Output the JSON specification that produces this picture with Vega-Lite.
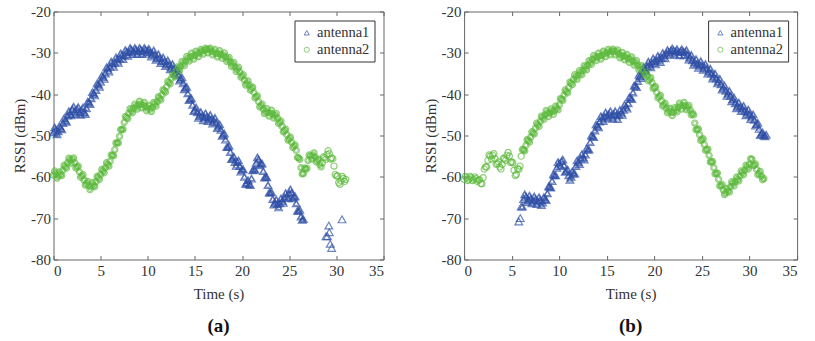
{
"$schema":"https://vega.github.io/schema/vega-lite/v6.json",
"padding":{"left":12.5,"top":4.5,"right":0,"bottom":0},
"spacing":80.6,
"bounds":"flush",
"config":{"view":{"stroke":null},"font":"Liberation Serif",
"axis":{"grid":false,"domainColor":"#666","tickColor":"#666","tickSize":-4,"labelPadding":8,"labelFont":"Liberation Serif","labelFontSize":15,"labelColor":"#333","titleFont":"Liberation Serif","titleFontSize":15,"titleFontWeight":"normal","titleColor":"#333","labelExpr":"datum.value + ''"},
"legend":{"labelFont":"Liberation Serif","labelFontSize":14.5,"labelColor":"#333"},
"title":{"font":"Liberation Serif","fontSize":19,"fontWeight":"bold","color":"#111"}},
"datasets":{
"a":[
{"s":1,"t":0,"v":-49.2},{"s":1,"t":0.25,"v":-48.6},{"s":1,"t":0.5,"v":-49},{"s":1,"t":0.75,"v":-48.2},{"s":1,"t":1,"v":-47},{"s":1,"t":1.25,"v":-46.4},{"s":1,"t":1.5,"v":-45.2},{"s":1,"t":1.75,"v":-44.8},{"s":1,"t":2,"v":-43.6},{"s":1,"t":2.25,"v":-44.2},{"s":1,"t":2.5,"v":-43.6},{"s":1,"t":2.75,"v":-44.4},{"s":1,"t":3,"v":-43.8},{"s":1,"t":3.25,"v":-44.4},{"s":1,"t":3.5,"v":-43.4},{"s":1,"t":3.75,"v":-42},{"s":1,"t":4,"v":-41},{"s":1,"t":4.25,"v":-39.8},{"s":1,"t":4.5,"v":-39},{"s":1,"t":4.75,"v":-37.6},{"s":1,"t":5,"v":-37},{"s":1,"t":5.25,"v":-35.8},{"s":1,"t":5.5,"v":-35},{"s":1,"t":5.75,"v":-33.8},{"s":1,"t":6,"v":-33.4},{"s":1,"t":6.25,"v":-32.6},{"s":1,"t":6.5,"v":-32.4},{"s":1,"t":6.75,"v":-31.6},{"s":1,"t":7,"v":-31.4},{"s":1,"t":7.25,"v":-30.6},{"s":1,"t":7.5,"v":-30.6},{"s":1,"t":7.75,"v":-29.8},{"s":1,"t":8,"v":-29.8},{"s":1,"t":8.25,"v":-29.2},{"s":1,"t":8.5,"v":-29.6},{"s":1,"t":8.75,"v":-29.2},{"s":1,"t":9,"v":-29.6},{"s":1,"t":9.25,"v":-29.2},{"s":1,"t":9.5,"v":-29.6},{"s":1,"t":9.75,"v":-29.2},{"s":1,"t":10,"v":-29.4},{"s":1,"t":10.25,"v":-29.8},{"s":1,"t":10.5,"v":-30.2},{"s":1,"t":10.75,"v":-30.4},{"s":1,"t":11,"v":-31.2},{"s":1,"t":11.25,"v":-31.2},{"s":1,"t":11.5,"v":-32},{"s":1,"t":11.75,"v":-32},{"s":1,"t":12,"v":-32.6},{"s":1,"t":12.25,"v":-32.8},{"s":1,"t":12.5,"v":-33.4},{"s":1,"t":12.75,"v":-33.8},{"s":1,"t":13,"v":-34.4},{"s":1,"t":13.25,"v":-35.4},{"s":1,"t":13.5,"v":-36.2},{"s":1,"t":13.75,"v":-37.4},{"s":1,"t":14,"v":-38.4},{"s":1,"t":14.25,"v":-39.8},{"s":1,"t":14.5,"v":-41.2},{"s":1,"t":14.75,"v":-42.6},{"s":1,"t":15,"v":-43.8},{"s":1,"t":15.25,"v":-44.4},{"s":1,"t":15.5,"v":-45.2},{"s":1,"t":15.75,"v":-45.2},{"s":1,"t":16,"v":-45.6},{"s":1,"t":16.25,"v":-45.4},{"s":1,"t":16.5,"v":-45.8},{"s":1,"t":16.75,"v":-46},{"s":1,"t":17,"v":-46.4},{"s":1,"t":17.25,"v":-46.8},{"s":1,"t":17.5,"v":-47.8},{"s":1,"t":17.75,"v":-48.6},{"s":1,"t":18,"v":-49.8},{"s":1,"t":18.25,"v":-51},{"s":1,"t":18.5,"v":-52.8},{"s":1,"t":18.75,"v":-54},{"s":1,"t":19,"v":-55.6},{"s":1,"t":19.25,"v":-56.4},{"s":1,"t":19.5,"v":-56.4},{"s":1,"t":19.75,"v":-57.4},{"s":1,"t":20,"v":-58.2},{"s":1,"t":20.25,"v":-60},{"s":1,"t":20.5,"v":-61.6},{"s":1,"t":20.75,"v":-61.8},{"s":1,"t":21,"v":-60.4},{"s":1,"t":21.25,"v":-58.2},{"s":1,"t":21.5,"v":-56.6},{"s":1,"t":21.75,"v":-55.8},{"s":1,"t":22,"v":-56.8},{"s":1,"t":22.25,"v":-58.6},{"s":1,"t":22.5,"v":-60},{"s":1,"t":22.75,"v":-62},{"s":1,"t":23,"v":-63.8},{"s":1,"t":23.25,"v":-65.4},{"s":1,"t":23.5,"v":-66.2},{"s":1,"t":23.75,"v":-66.6},{"s":1,"t":24,"v":-66.4},{"s":1,"t":24.25,"v":-65.8},{"s":1,"t":24.5,"v":-65},{"s":1,"t":24.75,"v":-64.6},{"s":1,"t":25,"v":-64},{"s":1,"t":25.25,"v":-63.8},{"s":1,"t":25.5,"v":-64.8},{"s":1,"t":25.75,"v":-66.4},{"s":1,"t":26,"v":-68.2},{"s":1,"t":26.25,"v":-69.6},{"s":1,"t":26.5,"v":-70.2},
{"s":1,"t":0.125,"v":-48},{"s":1,"t":0.375,"v":-49.7},{"s":1,"t":0.625,"v":-47.7},{"s":1,"t":0.875,"v":-48.5},{"s":1,"t":1.125,"v":-45.8},{"s":1,"t":1.375,"v":-46.7},{"s":1,"t":1.625,"v":-44.1},{"s":1,"t":1.875,"v":-45.1},{"s":1,"t":2.125,"v":-43},{"s":1,"t":2.375,"v":-44.8},{"s":1,"t":2.625,"v":-43.1},{"s":1,"t":2.875,"v":-45},{"s":1,"t":3.125,"v":-43.2},{"s":1,"t":3.375,"v":-44.8},{"s":1,"t":3.625,"v":-41.8},{"s":1,"t":3.875,"v":-42.4},{"s":1,"t":4.125,"v":-39.5},{"s":1,"t":4.375,"v":-40.3},{"s":1,"t":4.625,"v":-37.4},{"s":1,"t":4.875,"v":-38.2},{"s":1,"t":5.125,"v":-35.5},{"s":1,"t":5.375,"v":-36.3},{"s":1,"t":5.625,"v":-33.5},{"s":1,"t":5.875,"v":-34.5},{"s":1,"t":6.125,"v":-32.1},{"s":1,"t":6.375,"v":-33.4},{"s":1,"t":6.625,"v":-31.1},{"s":1,"t":6.875,"v":-32.4},{"s":1,"t":7.125,"v":-30.1},{"s":1,"t":7.375,"v":-31.5},{"s":1,"t":7.625,"v":-29.3},{"s":1,"t":7.875,"v":-30.7},{"s":1,"t":8.125,"v":-28.8},{"s":1,"t":8.375,"v":-30.3},{"s":1,"t":8.625,"v":-28.8},{"s":1,"t":8.875,"v":-30.3},{"s":1,"t":9.125,"v":-28.8},{"s":1,"t":9.375,"v":-30.3},{"s":1,"t":9.625,"v":-28.8},{"s":1,"t":9.875,"v":-30.2},{"s":1,"t":10.125,"v":-29},{"s":1,"t":10.375,"v":-30.9},{"s":1,"t":10.625,"v":-29.4},{"s":1,"t":10.875,"v":-31.7},{"s":1,"t":11.125,"v":-30.3},{"s":1,"t":11.375,"v":-32.5},{"s":1,"t":11.625,"v":-31.1},{"s":1,"t":11.875,"v":-33.2},{"s":1,"t":12.125,"v":-31.8},{"s":1,"t":12.375,"v":-34},{"s":1,"t":12.625,"v":-32.7},{"s":1,"t":12.875,"v":-35},{"s":1,"t":13.125,"v":-34},{"s":1,"t":13.375,"v":-36.7},{"s":1,"t":13.625,"v":-35.9},{"s":1,"t":13.875,"v":-38.8},{"s":1,"t":14.125,"v":-38.2},{"s":1,"t":14.375,"v":-41.4},{"s":1,"t":14.625,"v":-41},{"s":1,"t":14.875,"v":-44.1},{"s":1,"t":15.125,"v":-43.2},{"s":1,"t":15.375,"v":-45.7},{"s":1,"t":15.625,"v":-44.3},{"s":1,"t":15.875,"v":-46.3},{"s":1,"t":16.125,"v":-44.6},{"s":1,"t":16.375,"v":-46.5},{"s":1,"t":16.625,"v":-45},{"s":1,"t":16.875,"v":-47.1},{"s":1,"t":17.125,"v":-45.7},{"s":1,"t":17.375,"v":-48.2},{"s":1,"t":17.625,"v":-47.3},{"s":1,"t":17.875,"v":-50.1},{"s":1,"t":18.125,"v":-49.5},{"s":1,"t":18.375,"v":-52.8},{"s":1,"t":18.625,"v":-52.5},{"s":1,"t":18.875,"v":-55.7},{"s":1,"t":19.125,"v":-55.1},{"s":1,"t":19.375,"v":-57.3},{"s":1,"t":19.625,"v":-56},{"s":1,"t":19.875,"v":-58.7},{"s":1,"t":20.125,"v":-58.2},{"s":1,"t":20.375,"v":-61.7},{"s":1,"t":20.625,"v":-60.8},{"s":1,"t":20.875,"v":-62},{"s":1,"t":21.125,"v":-58.4},{"s":1,"t":21.375,"v":-58.3},{"s":1,"t":21.625,"v":-55.3},{"s":1,"t":21.875,"v":-57.2},{"s":1,"t":22.125,"v":-56.8},{"s":1,"t":22.375,"v":-60.2},{"s":1,"t":22.625,"v":-60.1},{"s":1,"t":22.875,"v":-63.8},{"s":1,"t":23.125,"v":-63.7},{"s":1,"t":23.375,"v":-66.7},{"s":1,"t":23.625,"v":-65.5},{"s":1,"t":23.875,"v":-67.4},{"s":1,"t":24.125,"v":-65.2},{"s":1,"t":24.375,"v":-66.3},{"s":1,"t":24.625,"v":-63.9},{"s":1,"t":24.875,"v":-65.2},{"s":1,"t":25.125,"v":-63},{"s":1,"t":25.375,"v":-65.2},{"s":1,"t":25.625,"v":-64.7},{"s":1,"t":25.875,"v":-68.2},{"s":1,"t":26.125,"v":-68},{"s":1,"t":26.375,"v":-70.4},
{"s":1,"t":28.9,"v":-74.4},{"s":1,"t":29.05,"v":-74.4},{"s":1,"t":29.2,"v":-71.8},{"s":1,"t":29.25,"v":-73.4},{"s":1,"t":29.35,"v":-76.2},{"s":1,"t":29.5,"v":-77.2},{"s":1,"t":30.6,"v":-70.3},
{"s":2,"t":0,"v":-59.6},{"s":2,"t":0.25,"v":-59.2},{"s":2,"t":0.5,"v":-59.8},{"s":2,"t":0.75,"v":-59.4},{"s":2,"t":1,"v":-58.4},{"s":2,"t":1.25,"v":-57.6},{"s":2,"t":1.5,"v":-56.6},{"s":2,"t":1.75,"v":-56},{"s":2,"t":2,"v":-55.8},{"s":2,"t":2.25,"v":-56.6},{"s":2,"t":2.5,"v":-57.6},{"s":2,"t":2.75,"v":-58.8},{"s":2,"t":3,"v":-59.8},{"s":2,"t":3.25,"v":-60.8},{"s":2,"t":3.5,"v":-61.6},{"s":2,"t":3.75,"v":-62.2},{"s":2,"t":4,"v":-62.4},{"s":2,"t":4.25,"v":-62},{"s":2,"t":4.5,"v":-61.2},{"s":2,"t":4.75,"v":-60.2},{"s":2,"t":5,"v":-59.4},{"s":2,"t":5.25,"v":-58.6},{"s":2,"t":5.5,"v":-57.8},{"s":2,"t":5.75,"v":-57},{"s":2,"t":6,"v":-56.2},{"s":2,"t":6.25,"v":-54.8},{"s":2,"t":6.5,"v":-53.4},{"s":2,"t":6.75,"v":-51.8},{"s":2,"t":7,"v":-50.2},{"s":2,"t":7.25,"v":-48.6},{"s":2,"t":7.5,"v":-46.8},{"s":2,"t":7.75,"v":-45.6},{"s":2,"t":8,"v":-44.6},{"s":2,"t":8.25,"v":-44},{"s":2,"t":8.5,"v":-43.4},{"s":2,"t":8.75,"v":-43},{"s":2,"t":9,"v":-42.6},{"s":2,"t":9.25,"v":-42.4},{"s":2,"t":9.5,"v":-42.6},{"s":2,"t":9.75,"v":-43},{"s":2,"t":10,"v":-43.4},{"s":2,"t":10.25,"v":-43.6},{"s":2,"t":10.5,"v":-43.2},{"s":2,"t":10.75,"v":-42.4},{"s":2,"t":11,"v":-41.8},{"s":2,"t":11.25,"v":-41},{"s":2,"t":11.5,"v":-40.2},{"s":2,"t":11.75,"v":-39.2},{"s":2,"t":12,"v":-38.2},{"s":2,"t":12.25,"v":-37.2},{"s":2,"t":12.5,"v":-36.2},{"s":2,"t":12.75,"v":-35.4},{"s":2,"t":13,"v":-34.6},{"s":2,"t":13.25,"v":-33.8},{"s":2,"t":13.5,"v":-33.2},{"s":2,"t":13.75,"v":-32.6},{"s":2,"t":14,"v":-32},{"s":2,"t":14.25,"v":-31.4},{"s":2,"t":14.5,"v":-31},{"s":2,"t":14.75,"v":-30.8},{"s":2,"t":15,"v":-30.6},{"s":2,"t":15.25,"v":-30.2},{"s":2,"t":15.5,"v":-30},{"s":2,"t":15.75,"v":-29.6},{"s":2,"t":16,"v":-29.4},{"s":2,"t":16.25,"v":-29.2},{"s":2,"t":16.5,"v":-29.2},{"s":2,"t":16.75,"v":-29.6},{"s":2,"t":17,"v":-29.8},{"s":2,"t":17.25,"v":-30.2},{"s":2,"t":17.5,"v":-30.2},{"s":2,"t":17.75,"v":-30.4},{"s":2,"t":18,"v":-30.6},{"s":2,"t":18.25,"v":-31},{"s":2,"t":18.5,"v":-31.6},{"s":2,"t":18.75,"v":-32.2},{"s":2,"t":19,"v":-32.8},{"s":2,"t":19.25,"v":-33.4},{"s":2,"t":19.5,"v":-34},{"s":2,"t":19.75,"v":-34.6},{"s":2,"t":20,"v":-35.6},{"s":2,"t":20.25,"v":-36.6},{"s":2,"t":20.5,"v":-37.4},{"s":2,"t":20.75,"v":-37.8},{"s":2,"t":21,"v":-38.6},{"s":2,"t":21.25,"v":-39.6},{"s":2,"t":21.5,"v":-40.6},{"s":2,"t":21.75,"v":-41.8},{"s":2,"t":22,"v":-42.8},{"s":2,"t":22.25,"v":-43.6},{"s":2,"t":22.5,"v":-44.2},{"s":2,"t":22.75,"v":-44.4},{"s":2,"t":23,"v":-44.6},{"s":2,"t":23.25,"v":-44.8},{"s":2,"t":23.5,"v":-45.2},{"s":2,"t":23.75,"v":-45.8},{"s":2,"t":24,"v":-46.8},{"s":2,"t":24.25,"v":-47.8},{"s":2,"t":24.5,"v":-48.8},{"s":2,"t":24.75,"v":-49.8},{"s":2,"t":25,"v":-50.8},{"s":2,"t":25.25,"v":-51.6},{"s":2,"t":25.5,"v":-52.6},{"s":2,"t":25.75,"v":-53.6},{"s":2,"t":26,"v":-55.4},{"s":2,"t":26.25,"v":-57.8},{"s":2,"t":26.5,"v":-59.2},{"s":2,"t":26.75,"v":-58.2},{"s":2,"t":27,"v":-56},{"s":2,"t":27.25,"v":-55},{"s":2,"t":27.5,"v":-54.8},{"s":2,"t":27.75,"v":-55.2},{"s":2,"t":28,"v":-56},{"s":2,"t":28.25,"v":-57},{"s":2,"t":28.5,"v":-56.6},{"s":2,"t":28.75,"v":-55.4},{"s":2,"t":29,"v":-54.6},{"s":2,"t":29.25,"v":-54.4},{"s":2,"t":29.5,"v":-55.4},{"s":2,"t":29.75,"v":-57.4},{"s":2,"t":30,"v":-59.8},{"s":2,"t":30.25,"v":-61.4},{"s":2,"t":30.5,"v":-61},{"s":2,"t":30.75,"v":-60.4},{"s":2,"t":31,"v":-60.6},
{"s":2,"t":0.125,"v":-58.6},{"s":2,"t":0.375,"v":-60.3},{"s":2,"t":0.625,"v":-58.8},{"s":2,"t":0.875,"v":-59.7},{"s":2,"t":1.125,"v":-57.2},{"s":2,"t":1.375,"v":-57.9},{"s":2,"t":1.625,"v":-55.5},{"s":2,"t":1.875,"v":-56.7},{"s":2,"t":2.125,"v":-55.4},{"s":2,"t":2.375,"v":-57.9},{"s":2,"t":2.625,"v":-57.4},{"s":2,"t":2.875,"v":-60.1},{"s":2,"t":3.125,"v":-59.5},{"s":2,"t":3.375,"v":-62},{"s":2,"t":3.625,"v":-61.1},{"s":2,"t":3.875,"v":-63.1},{"s":2,"t":4.125,"v":-61.4},{"s":2,"t":4.375,"v":-62.4},{"s":2,"t":4.625,"v":-59.9},{"s":2,"t":4.875,"v":-60.6},{"s":2,"t":5.125,"v":-58.2},{"s":2,"t":5.375,"v":-59},{"s":2,"t":5.625,"v":-56.6},{"s":2,"t":5.875,"v":-57.4},{"s":2,"t":6.125,"v":-54.7},{"s":2,"t":6.375,"v":-54.9},{"s":2,"t":6.625,"v":-51.8},{"s":2,"t":6.875,"v":-51.8},{"s":2,"t":7.125,"v":-48.6},{"s":2,"t":7.375,"v":-48.5},{"s":2,"t":7.625,"v":-45.4},{"s":2,"t":7.875,"v":-45.9},{"s":2,"t":8.125,"v":-43.5},{"s":2,"t":8.375,"v":-44.5},{"s":2,"t":8.625,"v":-42.4},{"s":2,"t":8.875,"v":-43.6},{"s":2,"t":9.125,"v":-41.7},{"s":2,"t":9.375,"v":-43.3},{"s":2,"t":9.625,"v":-42},{"s":2,"t":9.875,"v":-44},{"s":2,"t":10.125,"v":-42.7},{"s":2,"t":10.375,"v":-44.2},{"s":2,"t":10.625,"v":-42},{"s":2,"t":10.875,"v":-42.9},{"s":2,"t":11.125,"v":-40.6},{"s":2,"t":11.375,"v":-41.4},{"s":2,"t":11.625,"v":-38.9},{"s":2,"t":11.875,"v":-39.5},{"s":2,"t":12.125,"v":-36.9},{"s":2,"t":12.375,"v":-37.5},{"s":2,"t":12.625,"v":-35},{"s":2,"t":12.875,"v":-35.8},{"s":2,"t":13.125,"v":-33.4},{"s":2,"t":13.375,"v":-34.3},{"s":2,"t":13.625,"v":-32.1},{"s":2,"t":13.875,"v":-33.1},{"s":2,"t":14.125,"v":-30.9},{"s":2,"t":14.375,"v":-32},{"s":2,"t":14.625,"v":-30.1},{"s":2,"t":14.875,"v":-31.5},{"s":2,"t":15.125,"v":-29.6},{"s":2,"t":15.375,"v":-30.9},{"s":2,"t":15.625,"v":-29.2},{"s":2,"t":15.875,"v":-30.3},{"s":2,"t":16.125,"v":-28.9},{"s":2,"t":16.375,"v":-30},{"s":2,"t":16.625,"v":-28.9},{"s":2,"t":16.875,"v":-30.5},{"s":2,"t":17.125,"v":-29.2},{"s":2,"t":17.375,"v":-31},{"s":2,"t":17.625,"v":-29.5},{"s":2,"t":17.875,"v":-31.3},{"s":2,"t":18.125,"v":-30},{"s":2,"t":18.375,"v":-32.1},{"s":2,"t":18.625,"v":-31.1},{"s":2,"t":18.875,"v":-33.3},{"s":2,"t":19.125,"v":-32.3},{"s":2,"t":19.375,"v":-34.5},{"s":2,"t":19.625,"v":-33.5},{"s":2,"t":19.875,"v":-35.9},{"s":2,"t":20.125,"v":-35.3},{"s":2,"t":20.375,"v":-37.8},{"s":2,"t":20.625,"v":-36.8},{"s":2,"t":20.875,"v":-39},{"s":2,"t":21.125,"v":-38.3},{"s":2,"t":21.375,"v":-40.9},{"s":2,"t":21.625,"v":-40.4},{"s":2,"t":21.875,"v":-43.1},{"s":2,"t":22.125,"v":-42.4},{"s":2,"t":22.375,"v":-44.7},{"s":2,"t":22.625,"v":-43.5},{"s":2,"t":22.875,"v":-45.3},{"s":2,"t":23.125,"v":-43.9},{"s":2,"t":23.375,"v":-45.8},{"s":2,"t":23.625,"v":-44.7},{"s":2,"t":23.875,"v":-47.1},{"s":2,"t":24.125,"v":-46.5},{"s":2,"t":24.375,"v":-49.1},{"s":2,"t":24.625,"v":-48.5},{"s":2,"t":24.875,"v":-51.1},{"s":2,"t":25.125,"v":-50.4},{"s":2,"t":25.375,"v":-52.9},{"s":2,"t":25.625,"v":-52.3},{"s":2,"t":25.875,"v":-55.3},{"s":2,"t":26.125,"v":-55.8},{"s":2,"t":26.375,"v":-59.3},{"s":2,"t":26.625,"v":-57.9},{"s":2,"t":26.875,"v":-57.9},{"s":2,"t":27.125,"v":-54.7},{"s":2,"t":27.375,"v":-55.7},{"s":2,"t":27.625,"v":-54.2},{"s":2,"t":27.875,"v":-56.4},{"s":2,"t":28.125,"v":-55.7},{"s":2,"t":28.375,"v":-57.6},{"s":2,"t":28.625,"v":-55.2},{"s":2,"t":28.875,"v":-55.8},{"s":2,"t":29.125,"v":-53.7},{"s":2,"t":29.375,"v":-55.7},{"s":2,"t":29.625,"v":-55.6},{"s":2,"t":29.875,"v":-59.4},{"s":2,"t":30.125,"v":-59.8},{"s":2,"t":30.375,"v":-61.8},{"s":2,"t":30.625,"v":-59.9},{"s":2,"t":30.875,"v":-61.1}
],
"b":[
{"s":1,"t":5.75,"v":-70.8},{"s":1,"t":5.9,"v":-70},{"s":1,"t":6,"v":-67.2},{"s":1,"t":6.25,"v":-65.4},{"s":1,"t":6.5,"v":-64.8},{"s":1,"t":6.75,"v":-65.6},{"s":1,"t":7,"v":-65.2},{"s":1,"t":7.25,"v":-65.8},{"s":1,"t":7.5,"v":-65.4},{"s":1,"t":7.75,"v":-66},{"s":1,"t":8,"v":-65.6},{"s":1,"t":8.25,"v":-66.2},{"s":1,"t":8.5,"v":-65.4},{"s":1,"t":8.75,"v":-64},{"s":1,"t":9,"v":-62.4},{"s":1,"t":9.25,"v":-61},{"s":1,"t":9.5,"v":-59.6},{"s":1,"t":9.75,"v":-57.8},{"s":1,"t":10,"v":-56.8},{"s":1,"t":10.25,"v":-56.2},{"s":1,"t":10.5,"v":-57.2},{"s":1,"t":10.75,"v":-58.6},{"s":1,"t":11,"v":-59.6},{"s":1,"t":11.25,"v":-60},{"s":1,"t":11.5,"v":-59.2},{"s":1,"t":11.75,"v":-57.4},{"s":1,"t":12,"v":-56.4},{"s":1,"t":12.25,"v":-55.6},{"s":1,"t":12.5,"v":-55.2},{"s":1,"t":12.75,"v":-54.6},{"s":1,"t":13,"v":-53.4},{"s":1,"t":13.25,"v":-51.6},{"s":1,"t":13.5,"v":-50.2},{"s":1,"t":13.75,"v":-48.8},{"s":1,"t":14,"v":-47.6},{"s":1,"t":14.25,"v":-46.6},{"s":1,"t":14.5,"v":-45.8},{"s":1,"t":14.75,"v":-45.4},{"s":1,"t":15,"v":-45.2},{"s":1,"t":15.25,"v":-44.8},{"s":1,"t":15.5,"v":-45.2},{"s":1,"t":15.75,"v":-44.8},{"s":1,"t":16,"v":-45.2},{"s":1,"t":16.25,"v":-45},{"s":1,"t":16.5,"v":-44.4},{"s":1,"t":16.75,"v":-43.8},{"s":1,"t":17,"v":-43},{"s":1,"t":17.25,"v":-42.2},{"s":1,"t":17.5,"v":-41},{"s":1,"t":17.75,"v":-39.6},{"s":1,"t":18,"v":-38},{"s":1,"t":18.25,"v":-36.8},{"s":1,"t":18.5,"v":-35.6},{"s":1,"t":18.75,"v":-34.8},{"s":1,"t":19,"v":-33.8},{"s":1,"t":19.25,"v":-33.2},{"s":1,"t":19.5,"v":-32.8},{"s":1,"t":19.75,"v":-32.4},{"s":1,"t":20,"v":-32},{"s":1,"t":20.25,"v":-31.8},{"s":1,"t":20.5,"v":-31.4},{"s":1,"t":20.75,"v":-31.2},{"s":1,"t":21,"v":-30.6},{"s":1,"t":21.25,"v":-30.2},{"s":1,"t":21.5,"v":-29.8},{"s":1,"t":21.75,"v":-29.4},{"s":1,"t":22,"v":-29.4},{"s":1,"t":22.25,"v":-29.6},{"s":1,"t":22.5,"v":-29.8},{"s":1,"t":22.75,"v":-29.6},{"s":1,"t":23,"v":-29.6},{"s":1,"t":23.25,"v":-29.8},{"s":1,"t":23.5,"v":-30.4},{"s":1,"t":23.75,"v":-31},{"s":1,"t":24,"v":-31.8},{"s":1,"t":24.25,"v":-32.2},{"s":1,"t":24.5,"v":-32.6},{"s":1,"t":24.75,"v":-32.8},{"s":1,"t":25,"v":-33},{"s":1,"t":25.25,"v":-33.4},{"s":1,"t":25.5,"v":-33.8},{"s":1,"t":25.75,"v":-34.4},{"s":1,"t":26,"v":-35},{"s":1,"t":26.25,"v":-35.6},{"s":1,"t":26.5,"v":-36.2},{"s":1,"t":26.75,"v":-36.8},{"s":1,"t":27,"v":-37.6},{"s":1,"t":27.25,"v":-38.4},{"s":1,"t":27.5,"v":-39.2},{"s":1,"t":27.75,"v":-39.8},{"s":1,"t":28,"v":-40.4},{"s":1,"t":28.25,"v":-41.2},{"s":1,"t":28.5,"v":-42.2},{"s":1,"t":28.75,"v":-42.8},{"s":1,"t":29,"v":-43},{"s":1,"t":29.25,"v":-43.4},{"s":1,"t":29.5,"v":-44},{"s":1,"t":29.75,"v":-44.4},{"s":1,"t":30,"v":-44.8},{"s":1,"t":30.25,"v":-45.4},{"s":1,"t":30.5,"v":-46.2},{"s":1,"t":30.75,"v":-47.2},{"s":1,"t":31,"v":-48.4},{"s":1,"t":31.25,"v":-49.6},{"s":1,"t":31.5,"v":-50},{"s":1,"t":31.75,"v":-49.8},
{"s":1,"t":6.125,"v":-67.2},{"s":1,"t":6.375,"v":-64.2},{"s":1,"t":6.625,"v":-66.1},{"s":1,"t":6.875,"v":-64.5},{"s":1,"t":7.125,"v":-66.4},{"s":1,"t":7.375,"v":-64.7},{"s":1,"t":7.625,"v":-66.6},{"s":1,"t":7.875,"v":-64.9},{"s":1,"t":8.125,"v":-66.8},{"s":1,"t":8.375,"v":-64.9},{"s":1,"t":8.625,"v":-65.6},{"s":1,"t":8.875,"v":-62.3},{"s":1,"t":9.125,"v":-62.6},{"s":1,"t":9.375,"v":-59.4},{"s":1,"t":9.625,"v":-59.6},{"s":1,"t":9.875,"v":-56.4},{"s":1,"t":10.125,"v":-57.4},{"s":1,"t":10.375,"v":-55.8},{"s":1,"t":10.625,"v":-58.8},{"s":1,"t":10.875,"v":-58.2},{"s":1,"t":11.125,"v":-60.7},{"s":1,"t":11.375,"v":-58.7},{"s":1,"t":11.625,"v":-59.2},{"s":1,"t":11.875,"v":-56},{"s":1,"t":12.125,"v":-56.9},{"s":1,"t":12.375,"v":-54.5},{"s":1,"t":12.625,"v":-55.8},{"s":1,"t":12.875,"v":-53.1},{"s":1,"t":13.125,"v":-53.4},{"s":1,"t":13.375,"v":-50},{"s":1,"t":13.625,"v":-50.4},{"s":1,"t":13.875,"v":-47.3},{"s":1,"t":14.125,"v":-48},{"s":1,"t":14.375,"v":-45.3},{"s":1,"t":14.625,"v":-46.5},{"s":1,"t":14.875,"v":-44.4},{"s":1,"t":15.125,"v":-45.9},{"s":1,"t":15.375,"v":-44.1},{"s":1,"t":15.625,"v":-45.9},{"s":1,"t":15.875,"v":-44.1},{"s":1,"t":16.125,"v":-46},{"s":1,"t":16.375,"v":-43.8},{"s":1,"t":16.625,"v":-45},{"s":1,"t":16.875,"v":-42.5},{"s":1,"t":17.125,"v":-43.5},{"s":1,"t":17.375,"v":-40.7},{"s":1,"t":17.625,"v":-41.2},{"s":1,"t":17.875,"v":-37.9},{"s":1,"t":18.125,"v":-38.3},{"s":1,"t":18.375,"v":-35.3},{"s":1,"t":18.625,"v":-36.1},{"s":1,"t":18.875,"v":-33.4},{"s":1,"t":19.125,"v":-34.4},{"s":1,"t":19.375,"v":-32.1},{"s":1,"t":19.625,"v":-33.5},{"s":1,"t":19.875,"v":-31.3},{"s":1,"t":20.125,"v":-32.8},{"s":1,"t":20.375,"v":-30.7},{"s":1,"t":20.625,"v":-32.2},{"s":1,"t":20.875,"v":-30},{"s":1,"t":21.125,"v":-31.3},{"s":1,"t":21.375,"v":-29.3},{"s":1,"t":21.625,"v":-30.5},{"s":1,"t":21.875,"v":-28.9},{"s":1,"t":22.125,"v":-30.4},{"s":1,"t":22.375,"v":-29.1},{"s":1,"t":22.625,"v":-30.6},{"s":1,"t":22.875,"v":-29.1},{"s":1,"t":23.125,"v":-30.6},{"s":1,"t":23.375,"v":-29.3},{"s":1,"t":23.625,"v":-31.6},{"s":1,"t":23.875,"v":-30.5},{"s":1,"t":24.125,"v":-32.9},{"s":1,"t":24.375,"v":-31.5},{"s":1,"t":24.625,"v":-33.6},{"s":1,"t":24.875,"v":-32},{"s":1,"t":25.125,"v":-34.1},{"s":1,"t":25.375,"v":-32.7},{"s":1,"t":25.625,"v":-35},{"s":1,"t":25.875,"v":-33.8},{"s":1,"t":26.125,"v":-36.2},{"s":1,"t":26.375,"v":-35},{"s":1,"t":26.625,"v":-37.4},{"s":1,"t":26.875,"v":-36.3},{"s":1,"t":27.125,"v":-38.9},{"s":1,"t":27.375,"v":-37.9},{"s":1,"t":27.625,"v":-40.4},{"s":1,"t":27.875,"v":-39.2},{"s":1,"t":28.125,"v":-41.7},{"s":1,"t":28.375,"v":-40.8},{"s":1,"t":28.625,"v":-43.4},{"s":1,"t":28.875,"v":-42},{"s":1,"t":29.125,"v":-44.1},{"s":1,"t":29.375,"v":-42.8},{"s":1,"t":29.625,"v":-45.1},{"s":1,"t":29.875,"v":-43.7},{"s":1,"t":30.125,"v":-46},{"s":1,"t":30.375,"v":-44.9},{"s":1,"t":30.625,"v":-47.6},{"s":1,"t":30.875,"v":-46.9},{"s":1,"t":31.125,"v":-49.9},{"s":1,"t":31.375,"v":-49.2},{"s":1,"t":31.625,"v":-50.2},
{"s":2,"t":0,"v":-60.6},{"s":2,"t":0.25,"v":-60.2},{"s":2,"t":0.5,"v":-60.6},{"s":2,"t":0.75,"v":-60.2},{"s":2,"t":1,"v":-60.6},{"s":2,"t":1.25,"v":-60.4},{"s":2,"t":1.5,"v":-60.8},{"s":2,"t":1.75,"v":-61.6},{"s":2,"t":2,"v":-60.2},{"s":2,"t":2.25,"v":-57.6},{"s":2,"t":2.5,"v":-56},{"s":2,"t":2.75,"v":-55},{"s":2,"t":3,"v":-54.8},{"s":2,"t":3.25,"v":-55.6},{"s":2,"t":3.5,"v":-56.8},{"s":2,"t":3.75,"v":-57.6},{"s":2,"t":4,"v":-57},{"s":2,"t":4.25,"v":-55.6},{"s":2,"t":4.5,"v":-54.8},{"s":2,"t":4.75,"v":-55},{"s":2,"t":5,"v":-56.4},{"s":2,"t":5.25,"v":-58.4},{"s":2,"t":5.5,"v":-59.4},{"s":2,"t":5.75,"v":-58.2},{"s":2,"t":6,"v":-55},{"s":2,"t":6.25,"v":-53.4},{"s":2,"t":6.5,"v":-52.4},{"s":2,"t":6.75,"v":-51.2},{"s":2,"t":7,"v":-50.4},{"s":2,"t":7.25,"v":-49.4},{"s":2,"t":7.5,"v":-48.2},{"s":2,"t":7.75,"v":-47.4},{"s":2,"t":8,"v":-46.6},{"s":2,"t":8.25,"v":-45.6},{"s":2,"t":8.5,"v":-45},{"s":2,"t":8.75,"v":-44.6},{"s":2,"t":9,"v":-44.6},{"s":2,"t":9.25,"v":-44.2},{"s":2,"t":9.5,"v":-44},{"s":2,"t":9.75,"v":-43.4},{"s":2,"t":10,"v":-42.6},{"s":2,"t":10.25,"v":-41.2},{"s":2,"t":10.5,"v":-40.2},{"s":2,"t":10.75,"v":-39.4},{"s":2,"t":11,"v":-38.4},{"s":2,"t":11.25,"v":-37.4},{"s":2,"t":11.5,"v":-36.4},{"s":2,"t":11.75,"v":-35.8},{"s":2,"t":12,"v":-35.4},{"s":2,"t":12.25,"v":-34.8},{"s":2,"t":12.5,"v":-34.2},{"s":2,"t":12.75,"v":-33.6},{"s":2,"t":13,"v":-33},{"s":2,"t":13.25,"v":-32.4},{"s":2,"t":13.5,"v":-31.6},{"s":2,"t":13.75,"v":-31.2},{"s":2,"t":14,"v":-31},{"s":2,"t":14.25,"v":-30.8},{"s":2,"t":14.5,"v":-30.6},{"s":2,"t":14.75,"v":-30.2},{"s":2,"t":15,"v":-30},{"s":2,"t":15.25,"v":-29.8},{"s":2,"t":15.5,"v":-29.6},{"s":2,"t":15.75,"v":-29.6},{"s":2,"t":16,"v":-29.8},{"s":2,"t":16.25,"v":-30.2},{"s":2,"t":16.5,"v":-30.6},{"s":2,"t":16.75,"v":-30.8},{"s":2,"t":17,"v":-31},{"s":2,"t":17.25,"v":-31.4},{"s":2,"t":17.5,"v":-31.6},{"s":2,"t":17.75,"v":-32},{"s":2,"t":18,"v":-32.4},{"s":2,"t":18.25,"v":-33},{"s":2,"t":18.5,"v":-33.6},{"s":2,"t":18.75,"v":-34.2},{"s":2,"t":19,"v":-35},{"s":2,"t":19.25,"v":-35.6},{"s":2,"t":19.5,"v":-36.4},{"s":2,"t":19.75,"v":-37.2},{"s":2,"t":20,"v":-38.4},{"s":2,"t":20.25,"v":-39.6},{"s":2,"t":20.5,"v":-40.6},{"s":2,"t":20.75,"v":-41.6},{"s":2,"t":21,"v":-42.6},{"s":2,"t":21.25,"v":-43.4},{"s":2,"t":21.5,"v":-44},{"s":2,"t":21.75,"v":-44.4},{"s":2,"t":22,"v":-44.4},{"s":2,"t":22.25,"v":-43.8},{"s":2,"t":22.5,"v":-43.2},{"s":2,"t":22.75,"v":-42.8},{"s":2,"t":23,"v":-42.8},{"s":2,"t":23.25,"v":-42.8},{"s":2,"t":23.5,"v":-43.2},{"s":2,"t":23.75,"v":-43.8},{"s":2,"t":24,"v":-44.6},{"s":2,"t":24.25,"v":-47},{"s":2,"t":24.5,"v":-48.6},{"s":2,"t":24.75,"v":-49.8},{"s":2,"t":25,"v":-51},{"s":2,"t":25.25,"v":-52.2},{"s":2,"t":25.5,"v":-53.4},{"s":2,"t":25.75,"v":-54.8},{"s":2,"t":26,"v":-56.4},{"s":2,"t":26.25,"v":-57.8},{"s":2,"t":26.5,"v":-59.2},{"s":2,"t":26.75,"v":-60.6},{"s":2,"t":27,"v":-62.2},{"s":2,"t":27.25,"v":-63.2},{"s":2,"t":27.5,"v":-63.8},{"s":2,"t":27.75,"v":-63.4},{"s":2,"t":28,"v":-62.4},{"s":2,"t":28.25,"v":-61.6},{"s":2,"t":28.5,"v":-61.2},{"s":2,"t":28.75,"v":-60.6},{"s":2,"t":29,"v":-59.8},{"s":2,"t":29.25,"v":-59},{"s":2,"t":29.5,"v":-58.4},{"s":2,"t":29.75,"v":-57.6},{"s":2,"t":30,"v":-57},{"s":2,"t":30.25,"v":-55.8},{"s":2,"t":30.5,"v":-57.2},{"s":2,"t":30.75,"v":-58.2},{"s":2,"t":31,"v":-59.2},{"s":2,"t":31.25,"v":-59.8},{"s":2,"t":31.5,"v":-60.4},
{"s":2,"t":0.125,"v":-59.9},{"s":2,"t":0.375,"v":-60.9},{"s":2,"t":0.625,"v":-59.9},{"s":2,"t":0.875,"v":-60.9},{"s":2,"t":1.125,"v":-60},{"s":2,"t":1.375,"v":-61.1},{"s":2,"t":1.625,"v":-60.7},{"s":2,"t":1.875,"v":-61.7},{"s":2,"t":2.125,"v":-58.1},{"s":2,"t":2.375,"v":-57.6},{"s":2,"t":2.625,"v":-54.7},{"s":2,"t":2.875,"v":-55.7},{"s":2,"t":3.125,"v":-54.4},{"s":2,"t":3.375,"v":-57},{"s":2,"t":3.625,"v":-56.4},{"s":2,"t":3.875,"v":-58.1},{"s":2,"t":4.125,"v":-55.5},{"s":2,"t":4.375,"v":-56},{"s":2,"t":4.625,"v":-54.1},{"s":2,"t":4.875,"v":-56.5},{"s":2,"t":5.125,"v":-56.6},{"s":2,"t":5.375,"v":-59.7},{"s":2,"t":5.625,"v":-58},{"s":2,"t":5.875,"v":-57.4},{"s":2,"t":6.125,"v":-53.4},{"s":2,"t":6.375,"v":-53.7},{"s":2,"t":6.625,"v":-51},{"s":2,"t":6.875,"v":-51.6},{"s":2,"t":7.125,"v":-49.1},{"s":2,"t":7.375,"v":-49.6},{"s":2,"t":7.625,"v":-47},{"s":2,"t":7.875,"v":-47.8},{"s":2,"t":8.125,"v":-45.3},{"s":2,"t":8.375,"v":-46.1},{"s":2,"t":8.625,"v":-44},{"s":2,"t":8.875,"v":-45.4},{"s":2,"t":9.125,"v":-43.6},{"s":2,"t":9.375,"v":-44.9},{"s":2,"t":9.625,"v":-42.9},{"s":2,"t":9.875,"v":-43.8},{"s":2,"t":10.125,"v":-41.1},{"s":2,"t":10.375,"v":-41.5},{"s":2,"t":10.625,"v":-39},{"s":2,"t":10.875,"v":-39.7},{"s":2,"t":11.125,"v":-37.1},{"s":2,"t":11.375,"v":-37.7},{"s":2,"t":11.625,"v":-35.3},{"s":2,"t":11.875,"v":-36.4},{"s":2,"t":12.125,"v":-34.3},{"s":2,"t":12.375,"v":-35.3},{"s":2,"t":12.625,"v":-33.1},{"s":2,"t":12.875,"v":-34.1},{"s":2,"t":13.125,"v":-31.9},{"s":2,"t":13.375,"v":-32.8},{"s":2,"t":13.625,"v":-30.6},{"s":2,"t":13.875,"v":-31.9},{"s":2,"t":14.125,"v":-30.1},{"s":2,"t":14.375,"v":-31.5},{"s":2,"t":14.625,"v":-29.6},{"s":2,"t":14.875,"v":-30.9},{"s":2,"t":15.125,"v":-29.2},{"s":2,"t":15.375,"v":-30.5},{"s":2,"t":15.625,"v":-29.1},{"s":2,"t":15.875,"v":-30.5},{"s":2,"t":16.125,"v":-29.3},{"s":2,"t":16.375,"v":-31.2},{"s":2,"t":16.625,"v":-29.9},{"s":2,"t":16.875,"v":-31.7},{"s":2,"t":17.125,"v":-30.4},{"s":2,"t":17.375,"v":-32.3},{"s":2,"t":17.625,"v":-31},{"s":2,"t":17.875,"v":-33},{"s":2,"t":18.125,"v":-31.9},{"s":2,"t":18.375,"v":-34.1},{"s":2,"t":18.625,"v":-33.1},{"s":2,"t":18.875,"v":-35.4},{"s":2,"t":19.125,"v":-34.5},{"s":2,"t":19.375,"v":-36.8},{"s":2,"t":19.625,"v":-36},{"s":2,"t":19.875,"v":-38.6},{"s":2,"t":20.125,"v":-38.2},{"s":2,"t":20.375,"v":-40.9},{"s":2,"t":20.625,"v":-40.3},{"s":2,"t":20.875,"v":-42.9},{"s":2,"t":21.125,"v":-42.2},{"s":2,"t":21.375,"v":-44.5},{"s":2,"t":21.625,"v":-43.4},{"s":2,"t":21.875,"v":-45.2},{"s":2,"t":22.125,"v":-43.3},{"s":2,"t":22.375,"v":-44.3},{"s":2,"t":22.625,"v":-42.2},{"s":2,"t":22.875,"v":-43.6},{"s":2,"t":23.125,"v":-42},{"s":2,"t":23.375,"v":-43.8},{"s":2,"t":23.625,"v":-42.7},{"s":2,"t":23.875,"v":-45},{"s":2,"t":24.125,"v":-45},{"s":2,"t":24.375,"v":-48.6},{"s":2,"t":24.625,"v":-48.4},{"s":2,"t":24.875,"v":-51.2},{"s":2,"t":25.125,"v":-50.8},{"s":2,"t":25.375,"v":-53.6},{"s":2,"t":25.625,"v":-53.3},{"s":2,"t":25.875,"v":-56.4},{"s":2,"t":26.125,"v":-56.3},{"s":2,"t":26.375,"v":-59.3},{"s":2,"t":26.625,"v":-59.1},{"s":2,"t":26.875,"v":-62.2},{"s":2,"t":27.125,"v":-61.9},{"s":2,"t":27.375,"v":-64.3},{"s":2,"t":27.625,"v":-62.8},{"s":2,"t":27.875,"v":-63.7},{"s":2,"t":28.125,"v":-61.2},{"s":2,"t":28.375,"v":-62.2},{"s":2,"t":28.625,"v":-60.1},{"s":2,"t":28.875,"v":-61},{"s":2,"t":29.125,"v":-58.6},{"s":2,"t":29.375,"v":-59.5},{"s":2,"t":29.625,"v":-57.2},{"s":2,"t":29.875,"v":-58.1},{"s":2,"t":30.125,"v":-55.6},{"s":2,"t":30.375,"v":-57.3},{"s":2,"t":30.625,"v":-56.9},{"s":2,"t":30.875,"v":-59.5},{"s":2,"t":31.125,"v":-58.7},{"s":2,"t":31.375,"v":-60.7}
]},
"hconcat":[
{"width":330,"height":248,"data":{"name":"a"},
"title":{"text":"(a)","orient":"bottom","anchor":"middle","offset":15},
"layer":[
{"mark":{"type":"point","filled":false,"strokeWidth":1.2},
"encoding":{
"x":{"field":"t","type":"quantitative","scale":{"domain":[0,35],"nice":false},"axis":{"values":[0,5,10,15,20,25,30,35],"title":"Time (s)","titlePadding":8}},
"y":{"field":"v","type":"quantitative","scale":{"domain":[-80,-20],"nice":false},"axis":{"values":[-80,-70,-60,-50,-40,-30,-20],"title":"RSSI (dBm)","labelPadding":7,"titlePadding":0,"minExtent":26,"maxExtent":26}},
"size":{"field":"s","type":"ordinal","scale":{"domain":[1,2],"range":[60,38]},"legend":null},
"color":{"field":"s","type":"nominal","scale":{"domain":[1,2],"range":["#2f4fa6","#5cba3c"]},"legend":{"orient":"top-right","offset":9,"title":null,"labelExpr":"'antenna' + datum.label","labelFont":"Liberation Serif","labelFontSize":14.5,"strokeColor":"#333","fillColor":"white","padding":5,"symbolSize":26,"symbolStrokeWidth":1,"rowPadding":2,"labelOffset":3}},
"shape":{"field":"s","type":"nominal","scale":{"domain":[1,2],"range":["triangle-up","circle"]},"legend":{"orient":"top-right","offset":9,"title":null,"labelExpr":"'antenna' + datum.label","labelFont":"Liberation Serif","labelFontSize":14.5,"strokeColor":"#333","fillColor":"white","padding":5,"symbolSize":26,"symbolStrokeWidth":1,"rowPadding":2,"labelOffset":3}}}},
{"mark":{"type":"point","filled":false,"strokeWidth":1},
"transform":[{"filter":"datum.t < 28.5 || datum.t > 31"}],
"encoding":{
"x":{"field":"t","type":"quantitative","axis":null},
"y":{"field":"v","type":"quantitative","axis":null},
"size":{"field":"s","type":"ordinal","scale":{"domain":[1,2],"range":[24,15]},"legend":null},
"color":{"field":"s","type":"nominal","legend":{"orient":"top-right","offset":9,"title":null,"labelExpr":"'antenna' + datum.label","labelFont":"Liberation Serif","labelFontSize":14.5,"strokeColor":"#333","fillColor":"white","padding":5,"symbolSize":26,"symbolStrokeWidth":1,"rowPadding":2,"labelOffset":3}},
"shape":{"field":"s","type":"nominal","legend":{"orient":"top-right","offset":9,"title":null,"labelExpr":"'antenna' + datum.label","labelFont":"Liberation Serif","labelFontSize":14.5,"strokeColor":"#333","fillColor":"white","padding":5,"symbolSize":26,"symbolStrokeWidth":1,"rowPadding":2,"labelOffset":3}}}},
{"mark":{"type":"point","opacity":0},
"encoding":{
"x":{"field":"t","type":"quantitative","axis":{"orient":"top","values":[0,5,10,15,20,25,30,35],"labels":false,"title":null}},
"y":{"field":"v","type":"quantitative","axis":{"orient":"right","values":[-80,-70,-60,-50,-40,-30,-20],"labels":false,"title":null,"minExtent":0,"maxExtent":0}}}}
],
"resolve":{"axis":{"x":"independent","y":"independent"},"scale":{"size":"independent"}}},
{"width":333,"height":248,"data":{"name":"b"},
"title":{"text":"(b)","orient":"bottom","anchor":"middle","offset":15},
"layer":[
{"mark":{"type":"point","filled":false,"strokeWidth":1.2},
"encoding":{
"x":{"field":"t","type":"quantitative","scale":{"domain":[0,35],"nice":false},"axis":{"values":[0,5,10,15,20,25,30,35],"title":"Time (s)","titlePadding":8}},
"y":{"field":"v","type":"quantitative","scale":{"domain":[-80,-20],"nice":false},"axis":{"values":[-80,-70,-60,-50,-40,-30,-20],"title":"RSSI (dBm)","labelPadding":7,"titlePadding":0,"minExtent":26,"maxExtent":26}},
"size":{"field":"s","type":"ordinal","scale":{"domain":[1,2],"range":[60,38]},"legend":null},
"color":{"field":"s","type":"nominal","scale":{"domain":[1,2],"range":["#2f4fa6","#5cba3c"]},"legend":{"orient":"top-right","offset":9,"title":null,"labelExpr":"'antenna' + datum.label","labelFont":"Liberation Serif","labelFontSize":14.5,"strokeColor":"#333","fillColor":"white","padding":5,"symbolSize":26,"symbolStrokeWidth":1,"rowPadding":2,"labelOffset":3}},
"shape":{"field":"s","type":"nominal","scale":{"domain":[1,2],"range":["triangle-up","circle"]},"legend":{"orient":"top-right","offset":9,"title":null,"labelExpr":"'antenna' + datum.label","labelFont":"Liberation Serif","labelFontSize":14.5,"strokeColor":"#333","fillColor":"white","padding":5,"symbolSize":26,"symbolStrokeWidth":1,"rowPadding":2,"labelOffset":3}}}},
{"mark":{"type":"point","filled":false,"strokeWidth":1},
"transform":[{"filter":"datum.t > 6"}],
"encoding":{
"x":{"field":"t","type":"quantitative","axis":null},
"y":{"field":"v","type":"quantitative","axis":null},
"size":{"field":"s","type":"ordinal","scale":{"domain":[1,2],"range":[24,15]},"legend":null},
"color":{"field":"s","type":"nominal","legend":{"orient":"top-right","offset":9,"title":null,"labelExpr":"'antenna' + datum.label","labelFont":"Liberation Serif","labelFontSize":14.5,"strokeColor":"#333","fillColor":"white","padding":5,"symbolSize":26,"symbolStrokeWidth":1,"rowPadding":2,"labelOffset":3}},
"shape":{"field":"s","type":"nominal","legend":{"orient":"top-right","offset":9,"title":null,"labelExpr":"'antenna' + datum.label","labelFont":"Liberation Serif","labelFontSize":14.5,"strokeColor":"#333","fillColor":"white","padding":5,"symbolSize":26,"symbolStrokeWidth":1,"rowPadding":2,"labelOffset":3}}}},
{"mark":{"type":"point","opacity":0},
"encoding":{
"x":{"field":"t","type":"quantitative","axis":{"orient":"top","values":[0,5,10,15,20,25,30,35],"labels":false,"title":null}},
"y":{"field":"v","type":"quantitative","axis":{"orient":"right","values":[-80,-70,-60,-50,-40,-30,-20],"labels":false,"title":null,"minExtent":0,"maxExtent":0}}}}
],
"resolve":{"axis":{"x":"independent","y":"independent"},"scale":{"size":"independent"}}}
],
"resolve":{"scale":{"color":"independent","shape":"independent","size":"independent"},"legend":{"color":"independent","shape":"independent"}}
}
